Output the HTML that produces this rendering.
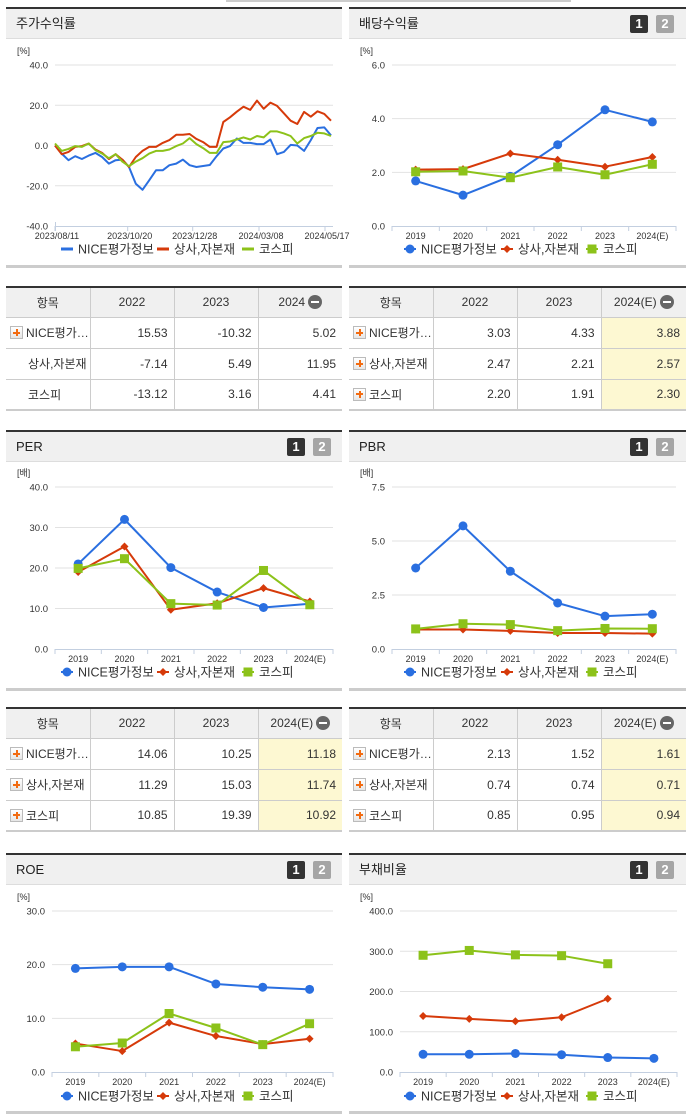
<!DOCTYPE html>
<html><head><meta charset="utf-8">
<style>
body{margin:0;width:691px;height:1115px;position:relative;background:#fff;font-family:"Liberation Sans","Noto Sans CJK KR",sans-serif;overflow:hidden;color:#333}
.abs{position:absolute}
.ptop{position:absolute;height:2px;background:#333}
.phead{position:absolute;height:30px;background:#f0f0f0;border-bottom:1px solid #ddd;font-size:13px;line-height:30px;box-sizing:border-box;padding-left:10px;color:#222}
.pbot{position:absolute;height:3px;background:#ccc}
.btn{position:absolute;width:18px;height:18px;top:6px;color:#fff;font-size:13px;font-weight:bold;line-height:18px;text-align:center;border-radius:2px}
.b1{background:#333}.b2{background:#a5a5a5}
table{position:absolute;border-collapse:collapse;font-size:12px;table-layout:fixed;border-top:2px solid #333;border-bottom:2px solid #ccc}
td,th{border:1px solid #ccc;height:31px;padding:0 6px;box-sizing:border-box}
th{background:#f0f0f0;font-weight:normal;text-align:center;color:#333;height:30px}
td{text-align:right;color:#333}
td.nm{text-align:left;padding-left:4px;white-space:nowrap;overflow:hidden}
tr>*:first-child{border-left:none}tr>*:last-child{border-right:none}
td.y{background:#fdf8d2}
.plus{display:inline-block;width:11px;height:11px;border:1px solid #bbb;background:linear-gradient(#fff,#e6e6e6);vertical-align:-2px;margin-right:3px;position:relative}
.plus:before{content:"";position:absolute;left:2px;top:4.5px;width:7px;height:2px;background:#f26b11}
.plus:after{content:"";position:absolute;left:4.5px;top:2px;width:2px;height:7px;background:#f26b11}
.minus{display:inline-block;width:14px;height:14px;border-radius:7px;background:#666;vertical-align:-3px;margin-left:3px;position:relative}
.minus:after{content:"";position:absolute;left:3px;top:6px;width:8px;height:2px;background:#fff}
</style></head><body>
<div class="abs" style="left:226px;top:0;width:345px;height:2px;background:#ccc"></div>

<div>
<div class="ptop" style="left:6px;top:7px;width:336px"></div>
<div class="phead" style="left:6px;top:9px;width:336px">주가수익률</div>
<div class="pbot" style="left:6px;top:265px;width:336px"></div>
</div>
<div>
<div class="ptop" style="left:349px;top:7px;width:337px"></div>
<div class="phead" style="left:349px;top:9px;width:337px">배당수익률<span class="btn b1" style="left:281px">1</span><span class="btn b2" style="left:307px">2</span></div>
<div class="pbot" style="left:349px;top:265px;width:337px"></div>
</div>
<div>
<div class="ptop" style="left:6px;top:430px;width:336px"></div>
<div class="phead" style="left:6px;top:432px;width:336px">PER<span class="btn b1" style="left:281px">1</span><span class="btn b2" style="left:307px">2</span></div>
<div class="pbot" style="left:6px;top:688px;width:336px"></div>
</div>
<div>
<div class="ptop" style="left:349px;top:430px;width:337px"></div>
<div class="phead" style="left:349px;top:432px;width:337px">PBR<span class="btn b1" style="left:281px">1</span><span class="btn b2" style="left:307px">2</span></div>
<div class="pbot" style="left:349px;top:688px;width:337px"></div>
</div>
<div>
<div class="ptop" style="left:6px;top:853px;width:336px"></div>
<div class="phead" style="left:6px;top:855px;width:336px">ROE<span class="btn b1" style="left:281px">1</span><span class="btn b2" style="left:307px">2</span></div>
<div class="pbot" style="left:6px;top:1111px;width:336px"></div>
</div>
<div>
<div class="ptop" style="left:349px;top:853px;width:337px"></div>
<div class="phead" style="left:349px;top:855px;width:337px">부채비율<span class="btn b1" style="left:281px">1</span><span class="btn b2" style="left:307px">2</span></div>
<div class="pbot" style="left:349px;top:1111px;width:337px"></div>
</div>

<table style="left:6px;top:286px;width:336px">
<colgroup><col style="width:84px"><col style="width:84px"><col style="width:84px"><col style="width:84px"></colgroup>
<tr><th>항목</th><th>2022</th><th>2023</th><th>2024<span class="minus"></span></th></tr>
<tr><td class="nm"><span class="plus"></span>NICE평가…</td><td>15.53</td><td>-10.32</td><td>5.02</td></tr>
<tr><td class="nm" style="padding-left:22px">상사,자본재</td><td>-7.14</td><td>5.49</td><td>11.95</td></tr>
<tr><td class="nm" style="padding-left:22px">코스피</td><td>-13.12</td><td>3.16</td><td>4.41</td></tr>
</table>
<table style="left:349px;top:286px;width:337px">
<colgroup><col style="width:84px"><col style="width:84px"><col style="width:84px"><col style="width:85px"></colgroup>
<tr><th>항목</th><th>2022</th><th>2023</th><th>2024(E)<span class="minus"></span></th></tr>
<tr><td class="nm"><span class="plus"></span>NICE평가…</td><td>3.03</td><td>4.33</td><td class="y">3.88</td></tr>
<tr><td class="nm"><span class="plus"></span>상사,자본재</td><td>2.47</td><td>2.21</td><td class="y">2.57</td></tr>
<tr><td class="nm"><span class="plus"></span>코스피</td><td>2.20</td><td>1.91</td><td class="y">2.30</td></tr>
</table>
<table style="left:6px;top:707px;width:336px">
<colgroup><col style="width:84px"><col style="width:84px"><col style="width:84px"><col style="width:84px"></colgroup>
<tr><th>항목</th><th>2022</th><th>2023</th><th>2024(E)<span class="minus"></span></th></tr>
<tr><td class="nm"><span class="plus"></span>NICE평가…</td><td>14.06</td><td>10.25</td><td class="y">11.18</td></tr>
<tr><td class="nm"><span class="plus"></span>상사,자본재</td><td>11.29</td><td>15.03</td><td class="y">11.74</td></tr>
<tr><td class="nm"><span class="plus"></span>코스피</td><td>10.85</td><td>19.39</td><td class="y">10.92</td></tr>
</table>
<table style="left:349px;top:707px;width:337px">
<colgroup><col style="width:84px"><col style="width:84px"><col style="width:84px"><col style="width:85px"></colgroup>
<tr><th>항목</th><th>2022</th><th>2023</th><th>2024(E)<span class="minus"></span></th></tr>
<tr><td class="nm"><span class="plus"></span>NICE평가…</td><td>2.13</td><td>1.52</td><td class="y">1.61</td></tr>
<tr><td class="nm"><span class="plus"></span>상사,자본재</td><td>0.74</td><td>0.74</td><td class="y">0.71</td></tr>
<tr><td class="nm"><span class="plus"></span>코스피</td><td>0.85</td><td>0.95</td><td class="y">0.94</td></tr>
</table>

<svg id="charts" class="abs" style="left:0;top:0" width="691" height="1115" font-family="Liberation Sans, Noto Sans CJK KR, sans-serif"></svg>

<script>
const stockDates = ['2023/08/11','2023/10/20','2023/12/28','2024/03/08','2024/05/17'];
const stockNice = [0,-4,-7.3,-5.3,-6.7,-5,-3.7,-5.7,-9,-7.3,-7,-10.7,-19,-22,-17.3,-12.3,-12.3,-9.8,-9,-7,-9.8,-10.7,-10.2,-9.7,-5.3,-1.5,-0.3,3.5,1.3,1.3,0.7,0.7,3,-4.3,-3.2,0.3,0,-2.7,2.7,8.7,9,5];
const stockSector = [0,-4.3,-3.2,-0.7,-0.3,1,-2,-3.7,-6.7,-4.3,-7,-10.7,-5.7,-2.7,-0.7,-0.7,1.3,2.7,5.3,5.3,5.7,3.3,1.7,-0.7,-0.7,11.7,14,16.8,19.3,17.7,22.3,18.3,21.3,19.7,16,12.3,10.7,16.7,14.3,17,15.7,12.3];
const stockKospi = [1,-2.7,-1.7,-0.3,-0.7,1,-2.3,-4,-6.3,-4.3,-8,-10.3,-8,-6.3,-4,-2.7,-2.7,-2,-0.3,1,3.7,0.7,-1.3,-3.7,-3.7,1.7,2,3,4,3,4.7,4,7,7,6,4.7,1,3.7,4.7,6.3,6,4.7];
const stockTicks = [-40,-20,0,20,40];

const years = ['2019','2020','2021','2022','2023','2024(E)'];
const divNice = [1.68,1.15,1.85,3.03,4.33,3.88];
const divSector = [2.10,2.12,2.70,2.47,2.21,2.57];
const divKospi = [2.02,2.05,1.80,2.20,1.91,2.30];
const divTicks = [0,2,4,6];

const perNice = [21.0,32.0,20.1,14.06,10.25,11.18];
const perSector = [19.0,25.3,9.7,11.29,15.03,11.74];
const perKospi = [19.9,22.3,11.2,10.85,19.39,10.92];
const perTicks = [0,10,20,30,40];

const pbrNice = [3.75,5.70,3.60,2.13,1.52,1.61];
const pbrSector = [0.90,0.90,0.84,0.74,0.74,0.71];
const pbrKospi = [0.93,1.17,1.13,0.85,0.95,0.94];
const pbrTicks = [0,2.5,5,7.5];

const roeNice = [19.3,19.6,19.6,16.4,15.8,15.4];
const roeSector = [5.3,3.9,9.2,6.7,5.2,6.2];
const roeKospi = [4.7,5.4,10.9,8.2,5.1,9.0];
const roeTicks = [0,10,20,30];

const debtNice = [44,44,46,43,36,34];
const debtSector = [139,132,126,136,182,null];
const debtKospi = [290,302,291,289,269,null];
const debtTicks = [0,100,200,300,400];

const legendNames = ['NICE평가정보','상사,자본재','코스피'];
const COLORS = ['#2a6fe0','#d63a0a','#8cc21a'];

const NS='http://www.w3.org/2000/svg';
const svg=document.getElementById('charts');
function el(tag,attrs,parent){const e=document.createElementNS(NS,tag);for(const k in attrs)e.setAttribute(k,attrs[k]);(parent||svg).appendChild(e);return e;}
function txt(s,attrs,parent){const t=el('text',attrs,parent);t.textContent=s;return t;}
function fmt(v,dec){return v.toFixed(dec);}

function marker(g,type,x,y,color){
  let m;
  if(type==='circle'){m=el('circle',{cx:x,cy:y,r:4.5,fill:color},g);}
  else if(type==='diamond'){m=el('path',{d:`M${x} ${y-4}L${x+4} ${y}L${x} ${y+4}L${x-4} ${y}Z`,fill:color},g);}
  else {m=el('rect',{x:x-4.5,y:y-4.5,width:9,height:9,fill:color},g);}
  
  
}

function axes(g,c,ticks,dec){
  const ys=v=>c.bottom-(v-c.min)/(c.max-c.min)*(c.bottom-c.top);
  ticks.forEach(t=>{
    if(t!==c.min){const l=el('line',{x1:c.left,x2:c.right,y1:ys(t),y2:ys(t),stroke:'#e2e2e2','stroke-width':1},g);
      }
    const lb=txt(fmt(t,dec),{x:c.left-7,y:ys(t)+3.5,'font-size':9.5,'text-anchor':'end',fill:'#333'},g);
    
  });
  const ax=el('line',{x1:c.left,x2:c.right,y1:c.bottom+0.5,y2:c.bottom+0.5,stroke:'#c3cfe0','stroke-width':1},g);
  
  const u=txt(c.unit,{x:c.ux,y:c.top-11,'font-size':9,fill:'#333'},g);
  
  return ys;
}

function legend(g,c,lineStyle){
  const types=['circle','diamond','square'];
  const xs=c.legendX;
  legendNames.forEach((n,i)=>{
    const lg=el('g',{},g);
    
    
    const y=c.legendY;
    el('line',{x1:xs[i]-6,x2:xs[i]+6,y1:y,y2:y,stroke:COLORS[i],'stroke-width':lineStyle?3:2},lg);
    if(!lineStyle) marker(lg,types[i],xs[i],y,COLORS[i]);
    txt(n,{x:xs[i]+11,y:y+4.5,'font-size':12.5,fill:'#333'},lg);
  });
}

function catChart(name,c,ticks,dec,series){
  const g=el('g',{});
  
  
  const ys=axes(g,c,ticks,dec);
  const w=(c.right-c.left)/years.length;
  const xs=i=>c.left+(i+0.5)*w;
  for(let i=0;i<=years.length;i++){
    const tk=el('line',{x1:c.left+i*w,x2:c.left+i*w,y1:c.bottom,y2:c.bottom+5,stroke:'#c3cfe0'},g);
    
  }
  years.forEach((y,i)=>{
    const t=txt(y,{x:xs(i),y:c.bottom+13,'font-size':9,'text-anchor':'middle',fill:'#333'},g);
    
  });
  const types=['circle','diamond','square'];
  series.forEach((vals,si)=>{
    let d='';
    vals.forEach((v,i)=>{if(v==null)return;d+=(d?'L':'M')+xs(i)+' '+ys(v);});
    const p=el('path',{d,fill:'none',stroke:COLORS[si],'stroke-width':2,'stroke-linejoin':'round'},g);
    
    
    vals.forEach((v,i)=>{if(v!=null)marker(g,types[si],xs(i),ys(v),COLORS[si]);});
  });
  legend(g,c,false);
}

(function(){
  const c={left:55,right:333,top:65,bottom:226,min:-40,max:40,unit:'[%]',ux:17,legendY:249,legendX:[67,163,248]};
  const g=el('g',{});
  
  
  const ys=axes(g,c,stockTicks,1);
  const n=stockNice.length;
  const plotR=331;
  const xs=i=>c.left+i*(plotR-c.left)/(n-1);
  const tickX=[55,127.7,192.7,259,325];
  stockDates.forEach((d,i)=>{
    const x=tickX[i];
    el('line',{x1:x,x2:x,y1:c.bottom,y2:c.bottom+5,stroke:'#c3cfe0'},g);
    const t=txt(d,{x:x+2,y:c.bottom+13,'font-size':9,'text-anchor':'middle',fill:'#333'},g);
    
  });
  el('line',{x1:c.left+0.5,x2:c.left+0.5,y1:c.bottom-4,y2:c.bottom+5,stroke:'#c3cfe0'},g);
  [stockNice,stockSector,stockKospi].forEach((vals,si)=>{
    const d=vals.map((v,i)=>(i?'L':'M')+xs(i).toFixed(1)+' '+ys(v).toFixed(1)).join('');
    const p=el('path',{d,fill:'none',stroke:COLORS[si],'stroke-width':2,'stroke-linejoin':'round'},g);
    
    
  });
  legend(g,c,true);
})();

catChart('dividend-chart',{left:392,right:676,top:65,bottom:226,min:0,max:6,unit:'[%]',ux:360,legendY:249,legendX:[410,507,592]},divTicks,1,[divNice,divSector,divKospi]);
catChart('per-chart',{left:55,right:333,top:487,bottom:649,min:0,max:40,unit:'[배]',ux:17,legendY:672,legendX:[67,163,248]},perTicks,1,[perNice,perSector,perKospi]);
catChart('pbr-chart',{left:392,right:676,top:487,bottom:649,min:0,max:7.5,unit:'[배]',ux:360,legendY:672,legendX:[410,507,592]},pbrTicks,1,[pbrNice,pbrSector,pbrKospi]);
catChart('roe-chart',{left:52,right:333,top:911,bottom:1072,min:0,max:30,unit:'[%]',ux:17,legendY:1096,legendX:[67,163,248]},roeTicks,1,[roeNice,roeSector,roeKospi]);
catChart('debt-ratio-chart',{left:400,right:677,top:911,bottom:1072,min:0,max:400,unit:'[%]',ux:360,legendY:1096,legendX:[410,507,592]},debtTicks,1,[debtNice,debtSector,debtKospi]);
</script>
</body></html>
